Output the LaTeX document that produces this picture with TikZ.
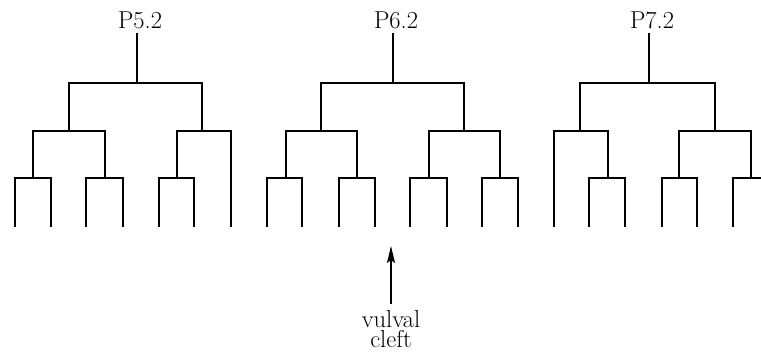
\documentclass[tikz,border=0pt]{standalone}
\usepackage{fontspec}
\setmainfont{Latin Modern Roman}
\usetikzlibrary{arrows.meta}

% one branching: bar at height #1 between x=#2 and x=#4,
% legs reaching down to #3 (left) and #5 (right)
\newcommand\dfork[5]{\draw[lin] (#2,#3) |- (#4,#1) -- (#4,#5);}

\tikzset{
  lin/.style={line width=2.2pt, line cap=butt, line join=miter},
  lbl/.style={inner sep=0pt, anchor=base, font=\fontsize{24.5}{20}\selectfont},
}

\begin{document}
\begin{tikzpicture}[x=1pt, y=-1pt]
  \useasboundingbox (0,0) rectangle (761,358);
  \clip (0,0) rectangle (761,358);

  % levels (top to bottom)
  \def\yA{83}  \def\yB{131}  \def\yC{178}  \def\yD{227}

  % ---------- P5.2 ----------
  \node[lbl] (p5) at (140,29) {P5.2};
  \coordinate (s5) at (137,33);
  \draw[lin] (s5) -- (137,\yA);
  \dfork{\yA}{69}{\yB}{202}{\yB}
  \dfork{\yB}{33}{\yC}{105}{\yC}
  \dfork{\yB}{177}{\yC}{231}{\yD}
  \dfork{\yC}{15}{\yD}{51}{\yD}
  \dfork{\yC}{86}{\yD}{123}{\yD}
  \dfork{\yC}{159}{\yD}{194}{\yD}

  % ---------- P6.2 ----------
  \node[lbl] (p6) at (396,29) {P6.2};
  \coordinate (s6) at (393,33);
  \draw[lin] (s6) -- (393,\yA);
  \dfork{\yA}{321}{\yB}{464}{\yB}
  \dfork{\yB}{286}{\yC}{357}{\yC}
  \dfork{\yB}{429}{\yC}{500}{\yC}
  \dfork{\yC}{267}{\yD}{302}{\yD}
  \dfork{\yC}{339}{\yD}{375}{\yD}
  \dfork{\yC}{410}{\yD}{447}{\yD}
  \dfork{\yC}{482}{\yD}{518}{\yD}

  % ---------- P7.2 ----------
  \node[lbl] (p7) at (652,29) {P7.2};
  \coordinate (s7) at (649,33);
  \draw[lin] (s7) -- (649,\yA);
  \dfork{\yA}{580}{\yB}{715}{\yB}
  \dfork{\yB}{554}{\yD}{608}{\yC}
  \dfork{\yB}{679}{\yC}{751}{\yC}
  \dfork{\yC}{589}{\yD}{625}{\yD}
  \dfork{\yC}{662}{\yD}{697}{\yD}
  \dfork{\yC}{733}{\yD}{769}{\yD}

  % ---------- vulval cleft ----------
  \node[lbl, align=center, anchor=north] (vc) at (391,310) {vulval\\cleft};
  \coordinate (atail) at (391,304);
  \coordinate (ahead) at (391,246);
  \draw[line width=1.6pt, -{Stealth[length=17pt, width=8pt, inset=3pt]}] (atail) -- (ahead);
\end{tikzpicture}
\end{document}
